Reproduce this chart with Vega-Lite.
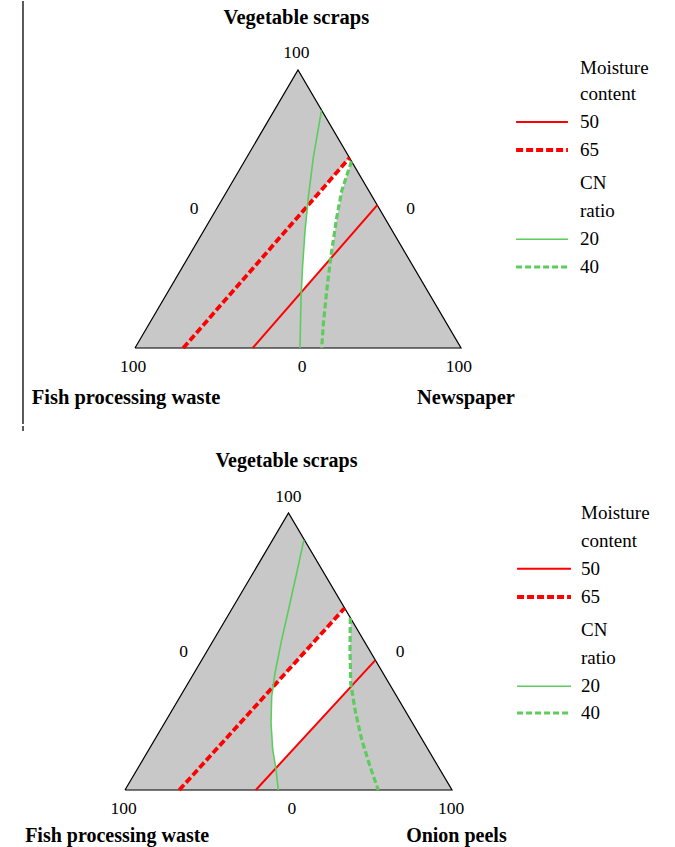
{
  "$schema": "https://vega.github.io/schema/vega-lite/v6.json",
  "padding": 0,
  "spacing": 0,
  "background": "white",
  "config": {"view": {"stroke": null}},
  "datasets": {
    "triangle": [
      {"u": 0, "v": 0, "k": 1},
      {"u": 50, "v": 100, "k": 2},
      {"u": 100, "v": 0, "k": 3},
      {"u": 0, "v": 0, "k": 4}
    ],
    "regionTop": [
      {"u": 52.9, "v": 51.1, "k": 1},
      {"u": 65.8, "v": 68.4, "k": 2},
      {"u": 66.4, "v": 67.2, "k": 3},
      {"u": 63.4, "v": 56.47, "k": 4},
      {"u": 61.87, "v": 46.87, "k": 5},
      {"u": 60.0, "v": 32.1, "k": 6},
      {"u": 51.0, "v": 20.1, "k": 7},
      {"u": 51.44, "v": 30.11, "k": 8},
      {"u": 52.15, "v": 42.09, "k": 9},
      {"u": 52.9, "v": 51.1, "k": 10}
    ],
    "regionBottom": [
      {"u": 45.3, "v": 37.2, "k": 1},
      {"u": 67.1, "v": 65.6, "k": 2},
      {"u": 68.9, "v": 62.1, "k": 3},
      {"u": 68.81, "v": 50.65, "k": 4},
      {"u": 69.02, "v": 38.63, "k": 5},
      {"u": 69.2, "v": 37.4, "k": 6},
      {"u": 46.1, "v": 7.8, "k": 7},
      {"u": 45.17, "v": 14.55, "k": 8},
      {"u": 44.65, "v": 24.19, "k": 9},
      {"u": 44.86, "v": 33.83, "k": 10},
      {"u": 45.3, "v": 37.2, "k": 11}
    ],
    "linesTop": [
      {"s": "MC65", "g": "curve", "k": 1, "u": 14.8, "v": 0},
      {"s": "MC65", "g": "curve", "k": 2, "u": 65.8, "v": 68.4},
      {"s": "MC50", "g": "curve", "k": 1, "u": 36.1, "v": 0},
      {"s": "MC50", "g": "curve", "k": 2, "u": 74.3, "v": 51.4},
      {"s": "CN20", "g": "curve", "k": 1, "u": 57.2, "v": 85.5},
      {"s": "CN20", "g": "curve", "k": 2, "u": 54.69, "v": 68.45},
      {"s": "CN20", "g": "curve", "k": 3, "u": 53.16, "v": 54.06},
      {"s": "CN20", "g": "curve", "k": 4, "u": 52.15, "v": 42.09},
      {"s": "CN20", "g": "curve", "k": 5, "u": 51.44, "v": 30.11},
      {"s": "CN20", "g": "curve", "k": 6, "u": 50.92, "v": 18.09},
      {"s": "CN20", "g": "curve", "k": 7, "u": 50.61, "v": 0},
      {"s": "CN40", "g": "curve", "k": 1, "u": 66.4, "v": 67.2},
      {"s": "CN40", "g": "curve", "k": 2, "u": 63.4, "v": 56.47},
      {"s": "CN40", "g": "curve", "k": 3, "u": 61.87, "v": 46.87},
      {"s": "CN40", "g": "curve", "k": 4, "u": 60.03, "v": 32.48},
      {"s": "CN40", "g": "curve", "k": 5, "u": 58.8, "v": 20.5},
      {"s": "CN40", "g": "curve", "k": 6, "u": 57.76, "v": 8.53},
      {"s": "CN40", "g": "curve", "k": 7, "u": 57.27, "v": 0},
      {"s": "MC50", "g": "key", "k": 1, "u": 116.9, "v": 81.29},
      {"s": "MC50", "g": "key", "k": 2, "u": 132.8, "v": 81.29},
      {"s": "MC65", "g": "key", "k": 1, "u": 116.9, "v": 71.22},
      {"s": "MC65", "g": "key", "k": 2, "u": 132.8, "v": 71.22},
      {"s": "CN20", "g": "key", "k": 1, "u": 116.9, "v": 39.1},
      {"s": "CN20", "g": "key", "k": 2, "u": 132.8, "v": 39.1},
      {"s": "CN40", "g": "key", "k": 1, "u": 116.9, "v": 29.14},
      {"s": "CN40", "g": "key", "k": 2, "u": 132.8, "v": 29.14}
    ],
    "linesBottom": [
      {"s": "MC65", "g": "curve", "k": 1, "u": 16.6, "v": 0},
      {"s": "MC65", "g": "curve", "k": 2, "u": 67.1, "v": 65.6},
      {"s": "MC50", "g": "curve", "k": 1, "u": 40.0, "v": 0},
      {"s": "MC50", "g": "curve", "k": 2, "u": 76.5, "v": 46.8},
      {"s": "CN20", "g": "curve", "k": 1, "u": 54.7, "v": 90.3},
      {"s": "CN20", "g": "curve", "k": 2, "u": 52.51, "v": 78.34},
      {"s": "CN20", "g": "curve", "k": 3, "u": 50.24, "v": 66.32},
      {"s": "CN20", "g": "curve", "k": 4, "u": 47.92, "v": 54.26},
      {"s": "CN20", "g": "curve", "k": 5, "u": 45.87, "v": 42.24},
      {"s": "CN20", "g": "curve", "k": 6, "u": 44.86, "v": 33.83},
      {"s": "CN20", "g": "curve", "k": 7, "u": 44.65, "v": 24.19},
      {"s": "CN20", "g": "curve", "k": 8, "u": 45.17, "v": 14.55},
      {"s": "CN20", "g": "curve", "k": 9, "u": 46.18, "v": 7.33},
      {"s": "CN20", "g": "curve", "k": 10, "u": 46.88, "v": 0},
      {"s": "CN40", "g": "curve", "k": 1, "u": 68.9, "v": 62.1},
      {"s": "CN40", "g": "curve", "k": 2, "u": 68.81, "v": 50.65},
      {"s": "CN40", "g": "curve", "k": 3, "u": 69.02, "v": 38.63},
      {"s": "CN40", "g": "curve", "k": 4, "u": 70.34, "v": 28.99},
      {"s": "CN40", "g": "curve", "k": 5, "u": 72.39, "v": 18.16},
      {"s": "CN40", "g": "curve", "k": 6, "u": 74.92, "v": 8.56},
      {"s": "CN40", "g": "curve", "k": 7, "u": 77.46, "v": 0},
      {"s": "MC50", "g": "key", "k": 1, "u": 119.9, "v": 79.89},
      {"s": "MC50", "g": "key", "k": 2, "u": 136.4, "v": 79.89},
      {"s": "MC65", "g": "key", "k": 1, "u": 119.9, "v": 69.68},
      {"s": "MC65", "g": "key", "k": 2, "u": 136.4, "v": 69.68},
      {"s": "CN20", "g": "key", "k": 1, "u": 119.9, "v": 37.44},
      {"s": "CN20", "g": "key", "k": 2, "u": 136.4, "v": 37.44},
      {"s": "CN40", "g": "key", "k": 1, "u": 119.9, "v": 27.8},
      {"s": "CN40", "g": "key", "k": 2, "u": 136.4, "v": 27.8}
    ],
    "namesTop": [
      {"t": "Vegetable scraps", "u": 49.5, "v": 118.6},
      {"t": "Fish processing waste", "u": -2.75, "v": -17.88},
      {"t": "Newspaper", "u": 101.53, "v": -17.88}
    ],
    "namesBottom": [
      {"t": "Vegetable scraps", "u": 49.39, "v": 118.66},
      {"t": "Fish processing waste", "u": -2.39, "v": -16.6},
      {"t": "Onion peels", "u": 101.35, "v": -16.6}
    ],
    "ticksTop": [
      {"t": "100", "u": 49.5, "v": 106.0},
      {"t": "0", "u": 18.1, "v": 49.89},
      {"t": "0", "u": 84.57, "v": 49.89},
      {"t": "100", "u": -0.55, "v": -6.83},
      {"t": "0", "u": 51.23, "v": -6.83},
      {"t": "100", "u": 99.33, "v": -6.83}
    ],
    "ticksBottom": [
      {"t": "100", "u": 49.94, "v": 105.78},
      {"t": "0", "u": 17.89, "v": 49.82},
      {"t": "0", "u": 84.1, "v": 49.82},
      {"t": "100", "u": -0.4, "v": -6.75},
      {"t": "0", "u": 51.07, "v": -6.75},
      {"t": "100", "u": 99.72, "v": -6.75}
    ],
    "legendTop": [
      {"t": "Moisture", "u": 136.5, "v": 100.83},
      {"t": "content", "u": 136.5, "v": 91.26},
      {"t": "50", "u": 136.5, "v": 81.29},
      {"t": "65", "u": 136.5, "v": 71.22},
      {"t": "CN", "u": 136.5, "v": 59.46},
      {"t": "ratio", "u": 136.5, "v": 49.28},
      {"t": "20", "u": 136.5, "v": 39.1},
      {"t": "40", "u": 136.5, "v": 29.14}
    ],
    "legendBottom": [
      {"t": "Moisture", "u": 139.45, "v": 100.0},
      {"t": "content", "u": 139.45, "v": 89.78},
      {"t": "50", "u": 139.45, "v": 79.89},
      {"t": "65", "u": 139.45, "v": 69.68},
      {"t": "CN", "u": 139.45, "v": 57.87},
      {"t": "ratio", "u": 139.45, "v": 47.65},
      {"t": "20", "u": 139.45, "v": 37.44},
      {"t": "40", "u": 139.45, "v": 27.8}
    ],
    "borderTop": [{"u": -34.36, "v": 124.82, "v2": -27.34}],
    "borderBottom": [{"u": -31.19, "v": 131.41, "v2": 129.6}]
  },
  "vconcat": [
    {
      "width": 675,
      "height": 423,
      "encoding": {
        "x": {"field": "u", "type": "quantitative", "scale": {"domain": [-41.41, 165.64], "nice": false, "zero": false}, "axis": null},
        "y": {"field": "v", "type": "quantitative", "scale": {"domain": [-27.34, 124.82], "nice": false, "zero": false}, "axis": null}
      },
      "layer": [
        {"data": {"name": "triangle"}, "mark": {"type": "line", "fill": "#c8c8c8", "stroke": "#c8c8c8", "strokeWidth": 0.5}, "encoding": {"order": {"field": "k"}}},
        {"data": {"name": "regionTop"}, "mark": {"type": "line", "fill": "#ffffff", "stroke": "#ffffff", "strokeWidth": 0.5}, "encoding": {"order": {"field": "k"}}},
        {"data": {"name": "triangle"}, "mark": {"type": "line", "stroke": "#000000", "strokeWidth": 1.2}, "encoding": {"order": {"field": "k"}}},
        {"data": {"name": "linesTop"}, "transform": [{"filter": "datum.s === 'MC65'"}], "mark": {"type": "line", "stroke": "#ff0000", "strokeWidth": 3.8, "strokeDash": [7, 3]}, "encoding": {"detail": {"field": "g"}, "order": {"field": "k"}}},
        {"data": {"name": "linesTop"}, "transform": [{"filter": "datum.s === 'MC50'"}], "mark": {"type": "line", "stroke": "#ff0000", "strokeWidth": 2}, "encoding": {"detail": {"field": "g"}, "order": {"field": "k"}}},
        {"data": {"name": "linesTop"}, "transform": [{"filter": "datum.s === 'CN20'"}], "mark": {"type": "line", "stroke": "#5ccc5c", "strokeWidth": 1.6}, "encoding": {"detail": {"field": "g"}, "order": {"field": "k"}}},
        {"data": {"name": "linesTop"}, "transform": [{"filter": "datum.s === 'CN40'"}], "mark": {"type": "line", "stroke": "#5ccc5c", "strokeWidth": 3.2, "strokeDash": [6, 3]}, "encoding": {"detail": {"field": "g"}, "order": {"field": "k"}}},
        {"data": {"name": "namesTop"}, "mark": {"type": "text", "font": "Liberation Serif", "fontSize": 20.5, "fontWeight": "bold", "align": "center", "baseline": "middle", "color": "#000000"}, "encoding": {"text": {"field": "t"}}},
        {"data": {"name": "ticksTop"}, "mark": {"type": "text", "font": "Liberation Serif", "fontSize": 17.5, "align": "center", "baseline": "middle", "color": "#000000"}, "encoding": {"text": {"field": "t"}}},
        {"data": {"name": "legendTop"}, "mark": {"type": "text", "font": "Liberation Serif", "fontSize": 19, "align": "left", "baseline": "middle", "color": "#000000"}, "encoding": {"text": {"field": "t"}}},
        {"data": {"name": "borderTop"}, "mark": {"type": "rule", "color": "#000000", "strokeWidth": 1.3}, "encoding": {"y2": {"field": "v2"}}}
      ]
    },
    {
      "width": 675,
      "height": 424,
      "encoding": {
        "x": {"field": "u", "type": "quantitative", "scale": {"domain": [-38.23, 168.2], "nice": false, "zero": false}, "axis": null},
        "y": {"field": "v", "type": "quantitative", "scale": {"domain": [-21.66, 131.41], "nice": false, "zero": false}, "axis": null}
      },
      "layer": [
        {"data": {"name": "triangle"}, "mark": {"type": "line", "fill": "#c8c8c8", "stroke": "#c8c8c8", "strokeWidth": 0.5}, "encoding": {"order": {"field": "k"}}},
        {"data": {"name": "regionBottom"}, "mark": {"type": "line", "fill": "#ffffff", "stroke": "#ffffff", "strokeWidth": 0.5}, "encoding": {"order": {"field": "k"}}},
        {"data": {"name": "triangle"}, "mark": {"type": "line", "stroke": "#000000", "strokeWidth": 1.2}, "encoding": {"order": {"field": "k"}}},
        {"data": {"name": "linesBottom"}, "transform": [{"filter": "datum.s === 'MC65'"}], "mark": {"type": "line", "stroke": "#ff0000", "strokeWidth": 3.8, "strokeDash": [7, 3]}, "encoding": {"detail": {"field": "g"}, "order": {"field": "k"}}},
        {"data": {"name": "linesBottom"}, "transform": [{"filter": "datum.s === 'MC50'"}], "mark": {"type": "line", "stroke": "#ff0000", "strokeWidth": 2}, "encoding": {"detail": {"field": "g"}, "order": {"field": "k"}}},
        {"data": {"name": "linesBottom"}, "transform": [{"filter": "datum.s === 'CN20'"}], "mark": {"type": "line", "stroke": "#5ccc5c", "strokeWidth": 1.6}, "encoding": {"detail": {"field": "g"}, "order": {"field": "k"}}},
        {"data": {"name": "linesBottom"}, "transform": [{"filter": "datum.s === 'CN40'"}], "mark": {"type": "line", "stroke": "#5ccc5c", "strokeWidth": 3.2, "strokeDash": [6, 3]}, "encoding": {"detail": {"field": "g"}, "order": {"field": "k"}}},
        {"data": {"name": "namesBottom"}, "mark": {"type": "text", "font": "Liberation Serif", "fontSize": 20, "fontWeight": "bold", "align": "center", "baseline": "middle", "color": "#000000"}, "encoding": {"text": {"field": "t"}}},
        {"data": {"name": "ticksBottom"}, "mark": {"type": "text", "font": "Liberation Serif", "fontSize": 17.5, "align": "center", "baseline": "middle", "color": "#000000"}, "encoding": {"text": {"field": "t"}}},
        {"data": {"name": "legendBottom"}, "mark": {"type": "text", "font": "Liberation Serif", "fontSize": 19, "align": "left", "baseline": "middle", "color": "#000000"}, "encoding": {"text": {"field": "t"}}},
        {"data": {"name": "borderBottom"}, "mark": {"type": "rule", "color": "#000000", "strokeWidth": 1.3}, "encoding": {"y2": {"field": "v2"}}}
      ]
    }
  ]
}
